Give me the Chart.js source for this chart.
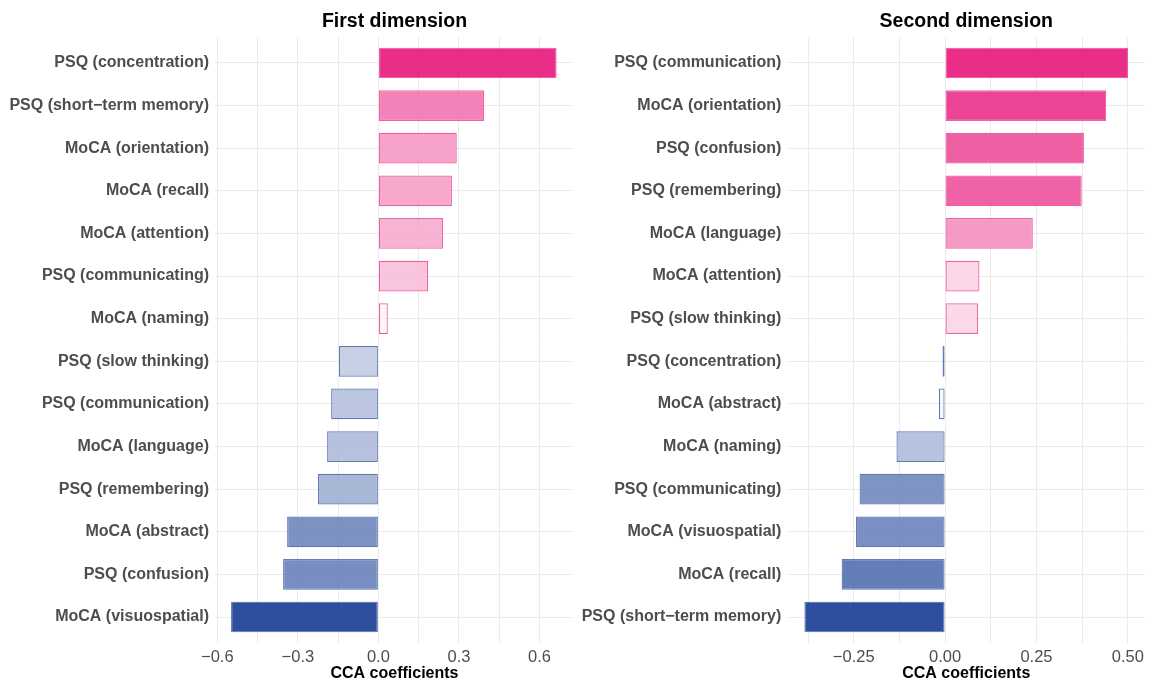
<!DOCTYPE html>
<html lang="en">
<head>
<meta charset="UTF-8">
<title>CCA coefficients</title>
<script src="https://cdn.jsdelivr.net/npm/chart.js"></script>
<style>
  html, body { margin: 0; padding: 0; background: #fff; }
  .panel { position: absolute; top: 0; height: 685px; }
  #leftPanel { left: 0; width: 575px; }
  #rightPanel { left: 575px; width: 574px; }
</style>
</head>
<body>
<div class="panel" id="leftPanel"><canvas id="firstChart"></canvas></div>
<div class="panel" id="rightPanel"><canvas id="secondChart"></canvas></div>

<script>
// First dimension (top to bottom)
const firstLabels = [
  'PSQ (concentration)', 'PSQ (short\u2212term memory)', 'MoCA (orientation)', 'MoCA (recall)',
  'MoCA (attention)', 'PSQ (communicating)', 'MoCA (naming)', 'PSQ (slow thinking)',
  'PSQ (communication)', 'MoCA (language)', 'PSQ (remembering)', 'MoCA (abstract)',
  'PSQ (confusion)', 'MoCA (visuospatial)'
];
const firstValues = [0.664, 0.394, 0.292, 0.274, 0.241, 0.185, 0.035, -0.147,
  -0.176, -0.191, -0.225, -0.340, -0.355, -0.549];
const firstTicks = [-0.6, -0.45, -0.3, -0.15, 0, 0.15, 0.3, 0.45, 0.6];
const firstMajor = [-0.6, -0.3, 0, 0.3, 0.6];
const firstTickText = ['\u22120.6', '\u22120.3', '0.0', '0.3', '0.6'];

// Second dimension (top to bottom)
const secondLabels = [
  'PSQ (communication)', 'MoCA (orientation)', 'PSQ (confusion)', 'PSQ (remembering)',
  'MoCA (language)', 'MoCA (attention)', 'PSQ (slow thinking)', 'PSQ (concentration)',
  'MoCA (abstract)', 'MoCA (naming)', 'PSQ (communicating)', 'MoCA (visuospatial)',
  'MoCA (recall)', 'PSQ (short\u2212term memory)'
];
const secondValues = [0.501, 0.441, 0.380, 0.374, 0.240, 0.094, 0.090, -0.007,
  -0.017, -0.133, -0.234, -0.244, -0.283, -0.385];
const secondTicks = [-0.375, -0.25, -0.125, 0, 0.125, 0.25, 0.375, 0.5];
const secondMajor = [-0.25, 0, 0.25, 0.5];
const secondTickText = ['\u22120.25', '0.00', '0.25', '0.50'];

const PINK = [234, 44, 135];
const BLUE = [46, 78, 158];
const ALPHA = 0.86;
const FONT = '"Liberation Sans", Arial, Helvetica, sans-serif';

// gradient from white to the sign colour, then made translucent so the grid shows through
function fillFor(values) {
  const maxPos = Math.max(...values);
  const maxNeg = Math.min(...values);
  return values.map(v => {
    const base = v >= 0 ? PINK : BLUE;
    const t = v >= 0 ? v / maxPos : v / maxNeg;
    const c = base.map(b => {
      const seen = 255 - t * (255 - b);
      return Math.max(0, Math.round((seen - (1 - ALPHA) * 255) / ALPHA));
    });
    return `rgba(${c[0]},${c[1]},${c[2]},${ALPHA})`;
  });
}
function borderFor(values) {
  return values.map(v => v >= 0 ? 'rgba(234,44,135,0.75)' : 'rgba(46,78,158,0.75)');
}

const panelTitle = {
  id: 'panelTitle',
  afterDraw(chart, args, opts) {
    const { ctx, chartArea } = chart;
    ctx.save();
    ctx.font = 'bold 19.5px ' + FONT;
    ctx.fillStyle = '#000';
    ctx.textAlign = 'center';
    ctx.textBaseline = 'alphabetic';
    ctx.fillText(opts.text, (chartArea.left + chartArea.right) / 2, 27);
    ctx.restore();
  }
};

function makeChart(id, title, labels, values, ticks, major, tickText, xmin, xmax, yWidth, rightPad) {
  const points = values.map((v, i) => ({ x: v, y: i }));
  return new Chart(document.getElementById(id), {
    type: 'bar',
    data: {
      datasets: [{
        data: points,
        backgroundColor: fillFor(values),
        borderColor: borderFor(values),
        borderWidth: 1.2,
        borderSkipped: false,
        barPercentage: 0.72,
        categoryPercentage: 1
      }]
    },
    options: {
      indexAxis: 'y',
      responsive: true,
      maintainAspectRatio: false,
      animation: false,
      layout: { padding: { top: 37.4, right: rightPad, bottom: 0, left: 0 } },
      plugins: {
        legend: { display: false },
        tooltip: { enabled: false },
        panelTitle: { text: title }
      },
      scales: {
        x: {
          type: 'linear',
          min: xmin,
          max: xmax,
          afterBuildTicks: s => { s.ticks = ticks.map(v => ({ value: v })); },
          afterFit: s => { s.height = 42.4; },
          border: { display: false },
          grid: { color: '#EBEBEB', lineWidth: 1, drawTicks: false },
          ticks: {
            padding: 5,
            color: '#4D4D4D',
            font: { family: FONT, size: 16.5 },
            autoSkip: false,
            maxRotation: 0,
            callback: v => {
              const k = major.findIndex(m => Math.abs(m - v) < 1e-9);
              return k >= 0 ? tickText[k] : '';
            }
          },
          title: {
            display: true,
            text: 'CCA coefficients',
            color: '#000',
            font: { family: FONT, size: 16, weight: 'bold' },
            padding: { top: 0, bottom: 2 }
          }
        },
        y: {
          type: 'linear',
          reverse: true,
          offset: false,
          min: -0.6,
          max: labels.length - 0.4,
          afterBuildTicks: s => { s.ticks = labels.map((l, i) => ({ value: i })); },
          afterFit: s => { s.width = yWidth; },
          border: { display: false },
          grid: { color: '#EBEBEB', lineWidth: 1, drawTicks: false, offset: false },
          ticks: {
            padding: 7,
            color: '#4D4D4D',
            font: { family: FONT, size: 16, weight: 'bold' },
            autoSkip: false,
            callback: v => labels[v]
          }
        }
      }
    },
    plugins: [panelTitle]
  });
}

makeChart('firstChart', 'First dimension', firstLabels, firstValues,
  firstTicks, firstMajor, firstTickText, -0.605, 0.725, 216, 2);
makeChart('secondChart', 'Second dimension', secondLabels, secondValues,
  secondTicks, secondMajor, secondTickText, -0.429, 0.545, 213.3, 3);
</script>
</body>
</html>
